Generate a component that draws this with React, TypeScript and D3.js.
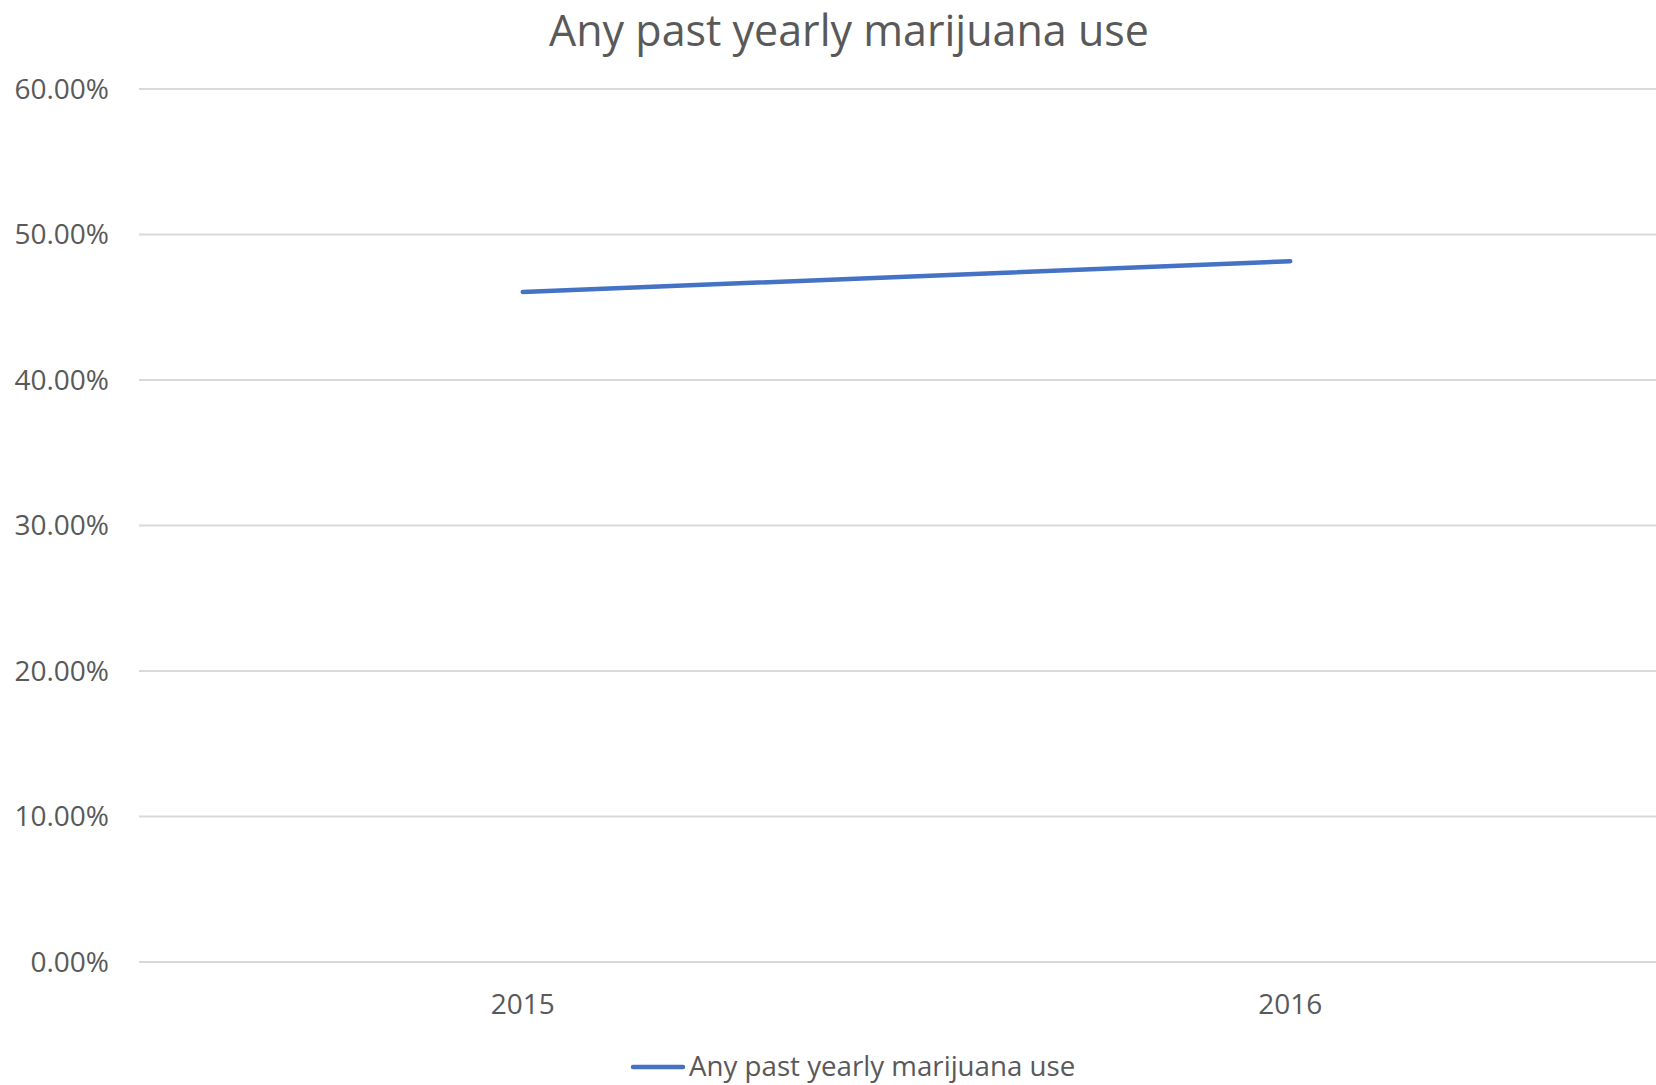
import React from "react";
import * as d3 from "d3";

const categories = ["2015", "2016"];
const values = [0.4605, 0.4816];
const yTicks = [0, 0.1, 0.2, 0.3, 0.4, 0.5, 0.6];
const seriesName = "Any past yearly marijuana use";
const title = "Any past yearly marijuana use";

const W = 1656;
const H = 1085;
const FONT = "'Open Sans', 'Noto Sans', sans-serif";
const TEXT = "#595959";

export default function App() {
  const x = d3.scaleBand<string>().domain(categories).range([139, 1674]);
  const y = d3.scaleLinear().domain([0, 0.6]).range([962, 89]);
  const line = d3
    .line<number>()
    .x((_, i) => (x(categories[i]) as number) + x.bandwidth() / 2)
    .y((d) => y(d));
  const fmt = d3.format(".2%");

  return (
    <svg
      width={W}
      height={H}
      style={{ position: "absolute", left: 0, top: 0, background: "#fff" }}
      fontFamily={FONT}
    >
      <rect width={W} height={H} fill="#fff" />
      <text x={849} y={46} textAnchor="middle" fontSize={43} fill={TEXT}>
        {title}
      </text>
      {yTicks.map((t) => (
        <g key={t}>
          <line x1={139} x2={W} y1={y(t)} y2={y(t)} stroke="#d9d9d9" strokeWidth={2} />
          <text x={109} y={y(t)} dy="0.35em" textAnchor="end" fontSize={28} fill={TEXT}>
            {fmt(t)}
          </text>
        </g>
      ))}
      {categories.map((c) => (
        <text
          key={c}
          x={(x(c) as number) + x.bandwidth() / 2}
          y={1014}
          textAnchor="middle"
          fontSize={28}
          fill={TEXT}
        >
          {c}
        </text>
      ))}
      <path
        d={line(values) || ""}
        fill="none"
        stroke="#4472C4"
        strokeWidth={4.5}
        strokeLinecap="round"
      />
      <line x1={633} x2={683} y1={1067} y2={1067} stroke="#4472C4" strokeWidth={4.5} strokeLinecap="round" />
      <text x={689} y={1076} fontSize={27.7} fill={TEXT}>
        {seriesName}
      </text>
    </svg>
  );
}
